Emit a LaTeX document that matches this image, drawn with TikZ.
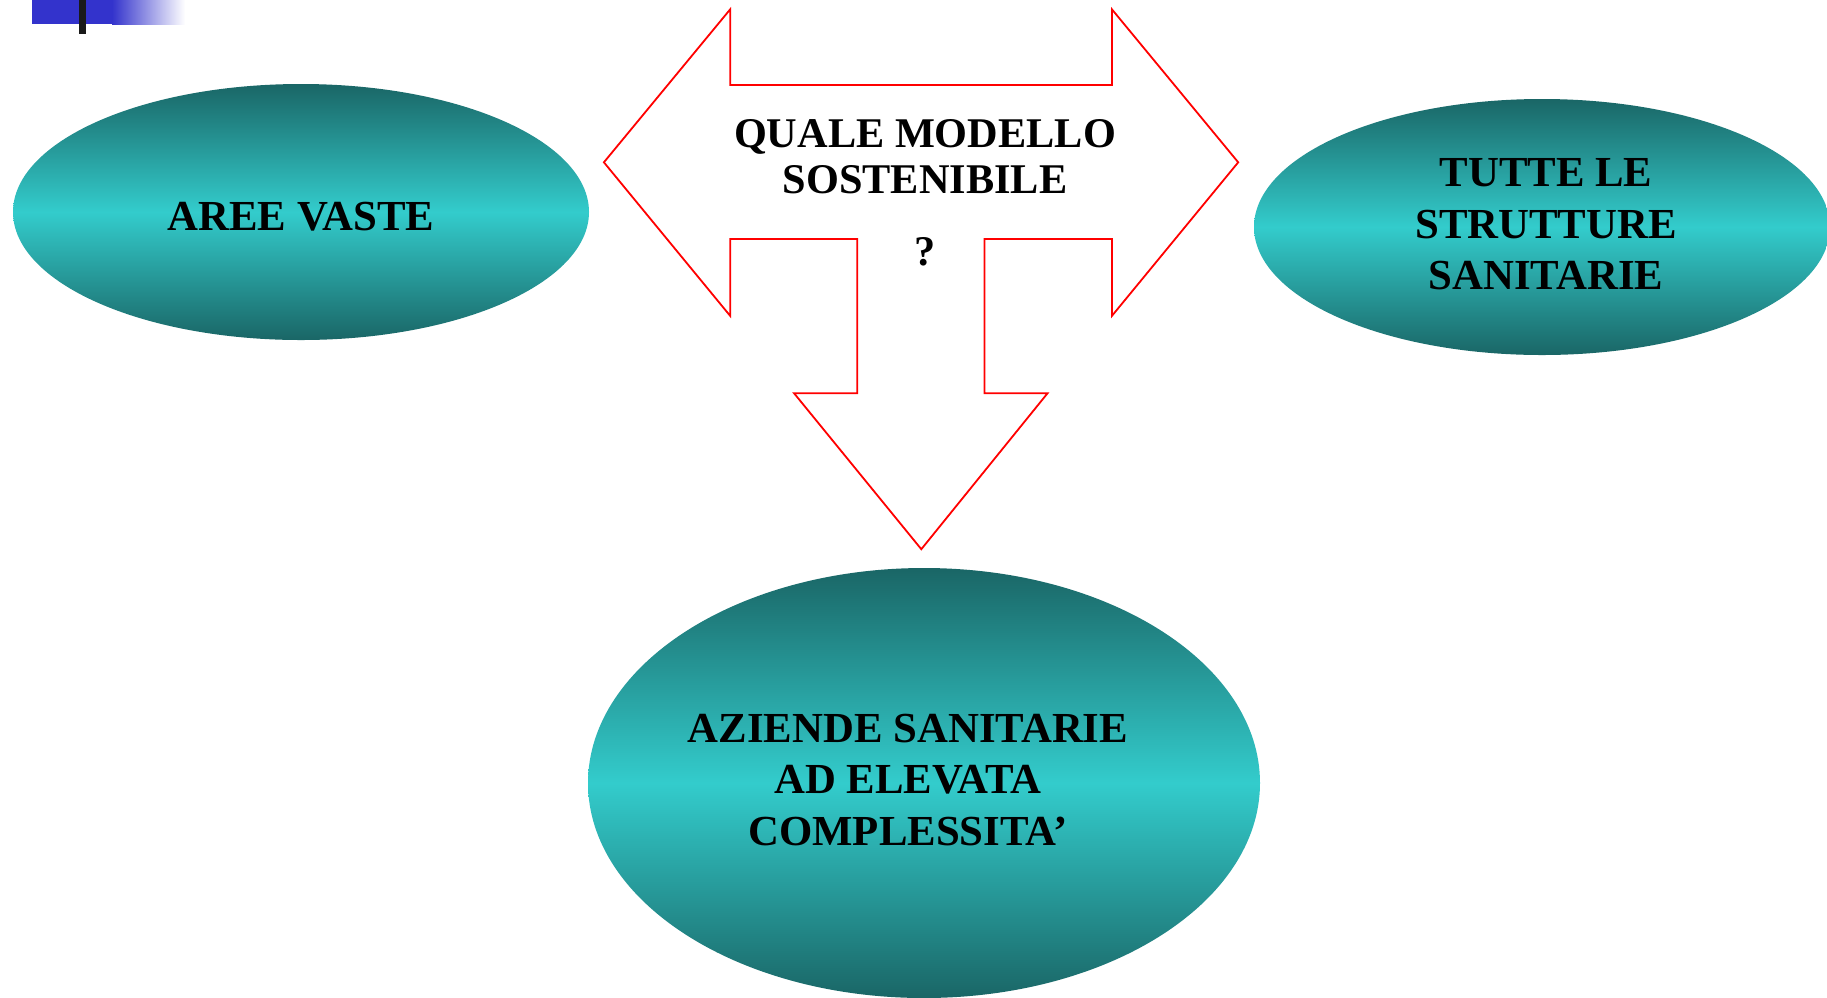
\documentclass[tikz,border=0pt]{standalone}
\usepackage{fontspec}
\setmainfont{Liberation Serif}
\usetikzlibrary{shapes.geometric}
\definecolor{tealdark}{RGB}{26,102,102}
\definecolor{teallight}{RGB}{51,204,204}
\definecolor{barblue}{RGB}{51,51,204}
\definecolor{barblack}{RGB}{26,26,26}
\tikzset{
  oval/.style={ellipse, inner sep=0pt, draw=none, top color=tealdark, bottom color=tealdark, middle color=teallight},
  lbl/.style={font=\bfseries\fontsize{42.8}{51.3}\selectfont, align=center, inner sep=0pt, text=black, anchor=base},
  albl/.style={font=\bfseries\fontsize{42.3}{46.3}\selectfont, align=center, inner sep=0pt, text=black, anchor=base},
  bigarrow/.style={draw=red, line width=1.8pt, fill=white, line join=miter},
}
\begin{document}
\begin{tikzpicture}[x=1pt,y=-1pt]
\useasboundingbox (0,0) rectangle (1827,997);
\clip (0,0) rectangle (1827,997);
% corner decoration
\fill[barblue] (32,0) rectangle (113,24);
\shade[left color=barblue, right color=white] (112,0) rectangle (185,24);
\fill[barblack] (79,0) rectangle (86,34);
% ellipses
\node[oval, minimum width=576pt, minimum height=256pt] (e1) at (301,212) {};
\node[oval, minimum width=576pt, minimum height=256pt] (e2) at (1542,227) {};
\node[oval, minimum width=672pt, minimum height=430pt] (e3) at (924,783) {};
% arrow
\draw[bigarrow] (603.9,162.3) -- (730.2,9.3) -- (730.2,85) -- (1111.9,85) -- (1111.9,9.3)
  -- (1238.2,162.3) -- (1111.9,315.9) -- (1111.9,238.9) -- (984.4,238.9) -- (984.4,393.3)
  -- (1047.5,393.3) -- (921.3,549.2) -- (794.1,393.3) -- (857.3,393.3) -- (857.3,238.9)
  -- (730.2,238.9) -- (730.2,315.9) -- cycle;
% texts (anchor=base is the last line's baseline)
\node[lbl] (t1) at (301,230.7) {AREE VASTE};
\node[lbl] (t2) at (1546,289.3) {TUTTE LE\\STRUTTURE\\SANITARIE};
\node[lbl] (t3) at (908,845) {AZIENDE SANITARIE\\AD ELEVATA\\COMPLESSITA’};
\node[albl] (ta) at (925,265.9) {QUALE MODELLO\\SOSTENIBILE\\[25.7pt]?};
\end{tikzpicture}
\end{document}
